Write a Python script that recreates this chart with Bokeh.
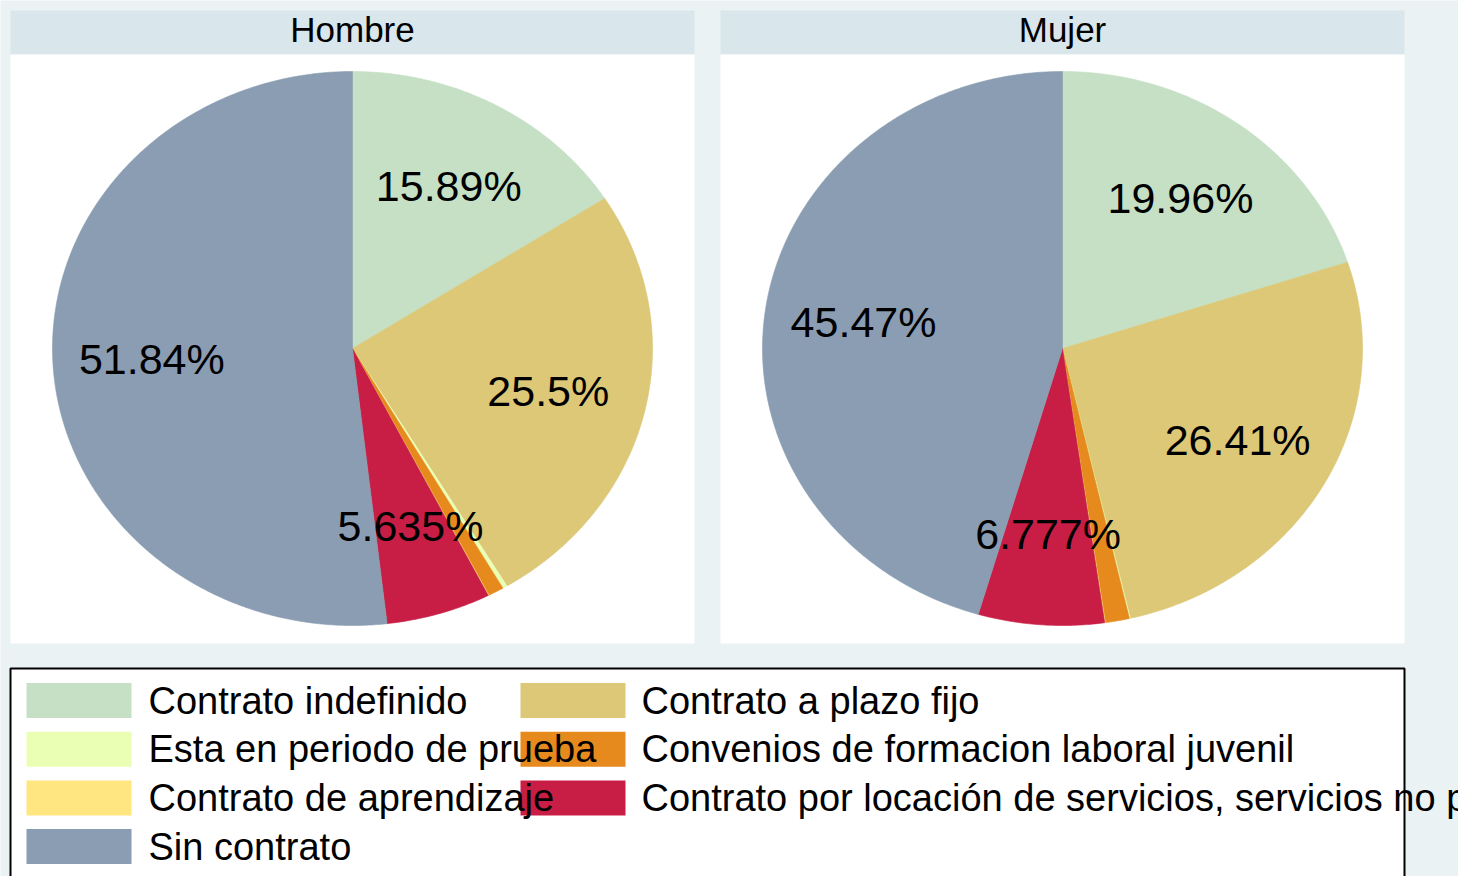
import math
from bokeh.plotting import figure
from bokeh.models import Range1d
from bokeh.core.properties import value
from bokeh.embed import file_html
from bokeh.resources import INLINE

# ---------------- data ----------------
categories = [
    "Contrato indefinido",
    "Contrato a plazo fijo",
    "Esta en periodo de prueba",
    "Convenios de formacion laboral juvenil",
    "Contrato de aprendizaje",
    "Contrato por locación de servicios, servicios no personales",
    "Sin contrato",
]
colors = ["#C5E0C5", "#DCC876", "#EBFFB4", "#E68A1E", "#FFE680", "#C81E46", "#8A9DB2"]
panels = ["Hombre", "Mujer"]
hombre = [15.89, 25.5, 0.25, 0.85, 0.035, 5.635, 51.84]
mujer = [19.96, 26.41, 0.05, 1.30, 0.033, 6.777, 45.47]
show_label = [True, True, False, False, False, True, True]

# ---------------- style ----------------
BG = "#EAF2F3"
STRIP = "#D9E6EB"
FONT = "Liberation Sans"

W, H = 1458, 876
X0, Y0 = 0, 0  # page offset of the canvas
p = figure(width=W, height=H, x_range=Range1d(X0, X0 + W), y_range=Range1d(Y0 + H, Y0),
           output_backend="svg", toolbar_location=None, min_border=0,
           x_axis_location=None, y_axis_location=None)
p.grid.visible = False
p.outline_line_color = None
p.background_fill_color = BG
p.border_fill_color = BG

# panel geometry (page pixels)
panel_left = [10, 720]
panel_w = 684
strip_top, strip_bot, panel_bot = 10, 54, 643
pie_rx, pie_ry, pie_cy = 300, 277, 348

for i, name in enumerate(panels):
    l = panel_left[i]
    r = l + panel_w
    p.quad(left=[l], right=[r], top=[strip_top], bottom=[strip_bot], fill_color=STRIP, line_color=None)
    p.quad(left=[l], right=[r], top=[strip_bot], bottom=[panel_bot], fill_color="white", line_color=None)
    p.text(x=[(l + r) / 2], y=[29], text=[name], text_align="center", text_baseline="middle",
           text_font=value(FONT), text_font_size="35px", text_color="black")

# pies: each drawn in its own unit range mapped by the library onto the panel
series = [hombre, mujer]
for i, vals in enumerate(series):
    cx = panel_left[i] + panel_w / 2
    xr = f"x{i}"
    yr = f"y{i}"
    p.extra_x_ranges[xr] = Range1d((X0 - cx) / pie_rx, (X0 + W - cx) / pie_rx)
    p.extra_y_ranges[yr] = Range1d((pie_cy - (Y0 + H)) / pie_ry, (pie_cy - Y0) / pie_ry)
    total = sum(vals)
    xs, ys, fc = [], [], []
    lx, ly, lt = [], [], []
    cum = 0.0
    for k, v in enumerate(vals):
        a0 = cum / total * 2 * math.pi
        cum += v
        a1 = cum / total * 2 * math.pi
        n = max(2, int((a1 - a0) / (2 * math.pi) * 720) + 2)
        angs = [a0 + (a1 - a0) * j / (n - 1) for j in range(n)]
        xs.append([0.0] + [math.sin(a) for a in angs])
        ys.append([0.0] + [math.cos(a) for a in angs])
        fc.append(colors[k])
        if show_label[k]:
            am = (a0 + a1) / 2
            lx.append(0.67 * math.sin(am))
            ly.append(0.67 * math.cos(am))
            lt.append(f"{v:.4g}%")
    p.patches(xs=xs, ys=ys, fill_color=fc, line_color=fc, line_width=0.6,
              x_range_name=xr, y_range_name=yr)
    p.text(x=lx, y=ly, text=lt, text_align="center", text_baseline="middle",
           text_font=value(FONT), text_font_size="43px", text_color="black",
           x_range_name=xr, y_range_name=yr)

# legend box
p.quad(left=[10], right=[1404], top=[668], bottom=[950], fill_color="white",
       line_color="black", line_width=2)

sw_left = [26, 520]
sw_w, sw_h = 105, 35
txt_left = [148, 641]
row0, row_step = 700, 48.7
sx0, sx1, sy0, sy1, scol = [], [], [], [], []
tx, ty, tt = [], [], []
for k, cat in enumerate(categories):
    row, col = k // 2, k % 2
    yc = row0 + row * row_step
    sx0.append(sw_left[col]); sx1.append(sw_left[col] + sw_w)
    sy0.append(yc - sw_h / 2); sy1.append(yc + sw_h / 2)
    scol.append(colors[k])
    tx.append(txt_left[col]); ty.append(yc); tt.append(cat)
p.quad(left=sx0, right=sx1, top=sy0, bottom=sy1, fill_color=scol, line_color=None)
p.text(x=tx, y=ty, text=tt, text_align="left", text_baseline="middle",
       text_font=value(FONT), text_font_size="38px", text_color="black")

open("out.html", "w").write(file_html(p, INLINE))
